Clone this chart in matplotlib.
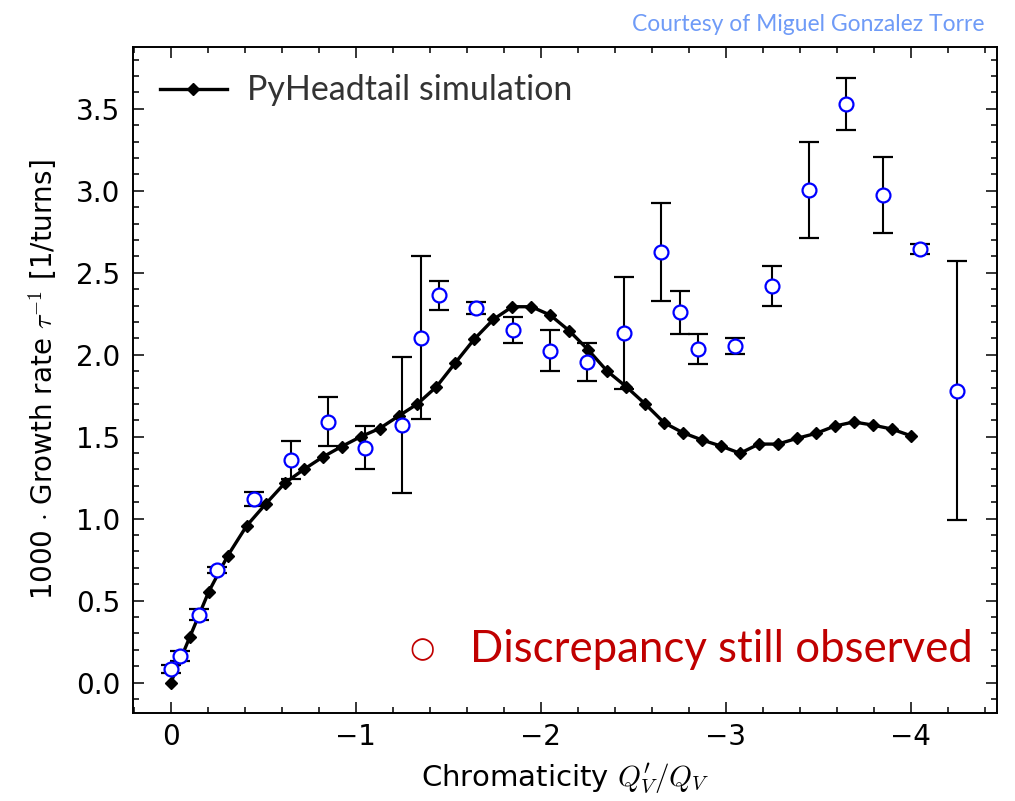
import matplotlib
matplotlib.use("Agg")
import matplotlib.pyplot as plt
from matplotlib.ticker import MultipleLocator

plt.rcParams['mathtext.fontset'] = 'cm'

# PyHeadtail simulation
sim_x = [0.0, -0.103, -0.205, -0.308, -0.410, -0.513, -0.615, -0.718, -0.821, -0.923,
         -1.026, -1.128, -1.231, -1.333, -1.436, -1.538, -1.641, -1.744, -1.846, -1.949,
         -2.051, -2.154, -2.256, -2.359, -2.462, -2.564, -2.667, -2.769, -2.872, -2.974,
         -3.077, -3.179, -3.282, -3.385, -3.487, -3.590, -3.692, -3.795, -3.897, -4.0]
sim_y = [0.0, 0.28, 0.555, 0.775, 0.957, 1.09, 1.216, 1.30, 1.376, 1.44,
         1.50, 1.55, 1.626, 1.70, 1.805, 1.951, 2.096, 2.216, 2.293, 2.293,
         2.242, 2.146, 2.03, 1.90, 1.805, 1.70, 1.585, 1.524, 1.48, 1.443,
         1.399, 1.455, 1.455, 1.49, 1.52, 1.565, 1.59, 1.571, 1.547, 1.506]

# Measurements
meas_x = [0.0, -0.05, -0.15, -0.25, -0.45, -0.65, -0.85, -1.05, -1.25, -1.35,
          -1.45, -1.65, -1.85, -2.05, -2.25, -2.45, -2.65, -2.75, -2.85, -3.05,
          -3.25, -3.45, -3.65, -3.85, -4.05, -4.25]
meas_y = [0.083, 0.162, 0.415, 0.687, 1.121, 1.357, 1.592, 1.432, 1.571, 2.104,
          2.362, 2.285, 2.149, 2.025, 1.957, 2.131, 2.625, 2.258, 2.036, 2.051,
          2.420, 3.005, 3.530, 2.972, 2.646, 1.781]
meas_err = [0.022, 0.029, 0.031, 0.020, 0.044, 0.117, 0.148, 0.132, 0.415, 0.498,
            0.089, 0.035, 0.079, 0.125, 0.117, 0.341, 0.298, 0.132, 0.090, 0.049,
            0.121, 0.290, 0.156, 0.232, 0.029, 0.790]

fig = plt.figure(figsize=(10.15, 8.01), dpi=100)
ax = fig.add_axes([0.131, 0.110, 0.851, 0.831])

ax.errorbar(meas_x, meas_y, yerr=meas_err, fmt='o', ms=10, mfc='white', mec='#0000ff',
            mew=1.6, ecolor='black', elinewidth=1.5, capsize=7.5, capthick=1.5, zorder=4)
ax.plot(sim_x, sim_y, '-', color='black', lw=2.4, marker='D', ms=6,
        label='PyHeadtail simulation', zorder=3)

ax.set_xlim(0.205, -4.465)
ax.set_ylim(-0.185, 3.876)
ax.xaxis.set_major_locator(MultipleLocator(1))
ax.xaxis.set_minor_locator(MultipleLocator(0.2))
ax.yaxis.set_major_locator(MultipleLocator(0.5))
ax.yaxis.set_minor_locator(MultipleLocator(0.1))
ax.tick_params(which='both', direction='in', top=True, right=True, labelsize=20, width=1.1)
ax.tick_params(which='major', length=8)
ax.tick_params(which='minor', length=4)
ax.tick_params(axis='x', which='major', pad=7)
ax.tick_params(axis='y', which='major', pad=9)
for s in ax.spines.values():
    s.set_linewidth(1.4)

ax.set_xlabel(r"Chromaticity $Q^{\prime}_V/Q_V$", fontsize=21, labelpad=8)
ax.set_ylabel(r"1000 $\cdot$ Growth rate $\tau^{-1}$ [1/turns]", fontsize=20, labelpad=12)

leg = ax.legend(loc='upper left', frameon=False, handlelength=1.95, handletextpad=0.6,
                borderaxespad=0.4, prop={'family': 'Lato', 'size': 24.5})
for t in leg.get_texts():
    t.set_color('#333333')

fig.text(0.970, 0.970, "Courtesy of Miguel Gonzalez Torre", ha='right', va='center',
         color='#6f9bf7', fontsize=16.5, family='Lato')
ax.text(0.335, 0.095, "\u25cb", transform=ax.transAxes, ha='center', va='center',
        color='#c00000', fontsize=21, family='DejaVu Sans')
ax.text(0.972, 0.095, "Discrepancy still observed", transform=ax.transAxes, ha='right',
        va='center', color='#c00000', fontsize=31.5, family='Lato')

fig.savefig("out.png", dpi=100)
